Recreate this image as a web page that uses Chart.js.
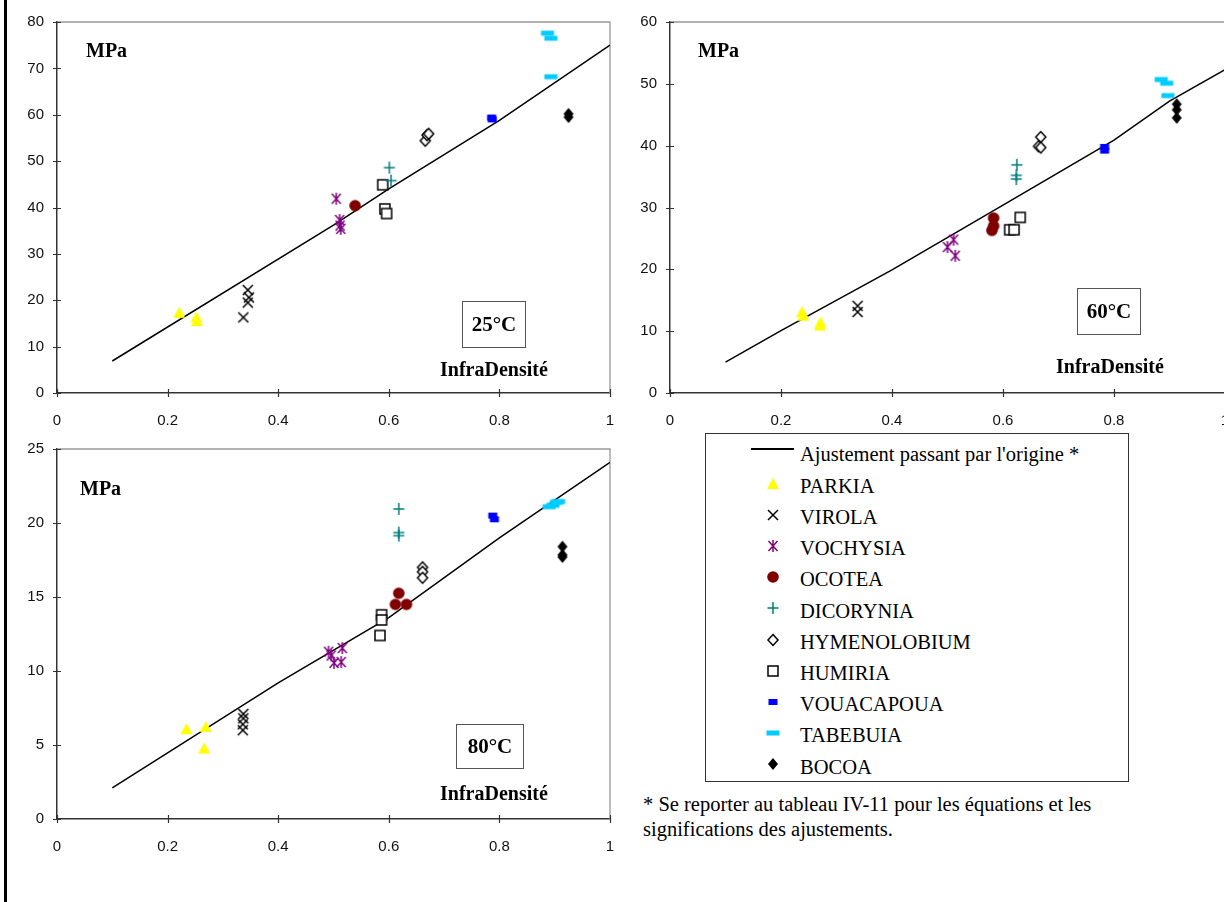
<!DOCTYPE html>
<html>
<head>
<meta charset="utf-8">
<script src="https://cdn.jsdelivr.net/npm/chart.js@4.4.1/dist/chart.umd.min.js"></script>
<style>
  body { margin: 0; background: #fff; }
  #page { position: relative; width: 1224px; height: 902px; overflow: hidden; background: #fff; }
  canvas.chart { position: absolute; }
  .txt { position: absolute; font-family: 'Liberation Serif', 'Times New Roman', serif; color: #000; white-space: nowrap; font-size: 20.5px; line-height: 20px; }
  .b { font-weight: bold; font-size: 20px; }
  .tbox { position: absolute; box-sizing: border-box; border: 1.5px solid #555; display: flex; align-items: center; justify-content: center;
          font-family: 'Liberation Serif', 'Times New Roman', serif; font-weight: bold; font-size: 21px; }
  #leftbar { position: absolute; left: 4px; top: 0; width: 3px; height: 902px; background: #000; }
  #legend { position: absolute; left: 705px; top: 433px; width: 424px; height: 349px; box-sizing: border-box; border: 1.5px solid #333; }
  #legline { position: absolute; left: 751px; top: 448px; width: 43px; height: 1.5px; background: #000; }
  .mk { position: absolute; }
</style>
</head>
<body>
<div id="page">
  <div id="leftbar"></div>
  <canvas id="c25" class="chart" width="620" height="426" style="left:0;top:0"></canvas>
  <canvas id="c60" class="chart" width="620" height="426" style="left:614px;top:0"></canvas>
  <canvas id="c80" class="chart" width="620" height="476" style="left:0;top:426px"></canvas>

  <div class="txt b" style="left:86px;top:40px">MPa</div>
  <div class="tbox" style="left:462px;top:301px;width:64px;height:47px">25°C</div>
  <div class="txt b" style="left:440px;top:359px">InfraDensité</div>

  <div class="txt b" style="left:698px;top:40px">MPa</div>
  <div class="tbox" style="left:1077px;top:288px;width:64px;height:47px">60°C</div>
  <div class="txt b" style="left:1056px;top:356px">InfraDensité</div>

  <div class="txt b" style="left:80px;top:478px">MPa</div>
  <div class="tbox" style="left:456px;top:724px;width:68px;height:45px">80°C</div>
  <div class="txt b" style="left:440px;top:783px">InfraDensité</div>

  <div id="legend"></div>
  <div id="legline"></div>
  <div class="txt" style="left:800px;top:444px">Ajustement passant par l'origine *</div>

  <div class="txt" style="left:643px;top:794px">* Se reporter au tableau IV-11 pour les équations et les</div>
  <div class="txt" style="left:643px;top:819px">significations des ajustements.</div>
</div>

<script>
// espèces et styles de marqueurs
const species = ['PARKIA', 'VIROLA', 'VOCHYSIA', 'OCOTEA', 'DICORYNIA', 'HYMENOLOBIUM', 'HUMIRIA', 'VOUACAPOUA', 'TABEBUIA', 'BOCOA'];
const colors = ['#FFFF00', '#000000', '#800080', '#800000', '#008080', '#000000', '#000000', '#0000FF', '#00CCFF', '#000000'];
const shapes = ['triangle', 'cross', 'asterisk', 'circle', 'plus', 'diamondOpen', 'squareOpen', 'dash', 'dashWide', 'diamond'];

const xTicks = [0, 0.2, 0.4, 0.6, 0.8, 1];
const yTicks25 = [0, 10, 20, 30, 40, 50, 60, 70, 80];
const yTicks60 = [0, 10, 20, 30, 40, 50, 60];
const yTicks80 = [0, 5, 10, 15, 20, 25];

// [infradensité, MPa] par espèce, même ordre que species
const pts25 = [
  [[0.221, 17.3], [0.252, 16.3], [0.253, 15.5]],
  [[0.337, 16.3], [0.345, 19.5], [0.347, 20.6], [0.345, 22.2]],
  [[0.505, 41.9], [0.511, 37.3], [0.512, 36.1], [0.513, 35.4]],
  [[0.539, 40.4]],
  [[0.601, 48.6], [0.604, 45.8]],
  [[0.666, 54.4], [0.669, 55.6], [0.672, 55.9]],
  [[0.589, 44.9], [0.593, 39.7], [0.596, 38.7]],
  [[0.786, 59.4], [0.787, 59.0]],
  [[0.887, 77.6], [0.893, 76.5], [0.893, 68.2]],
  [[0.925, 60.2], [0.925, 59.5]]
];
const pts60 = [
  [[0.238, 13.1], [0.240, 12.5], [0.271, 11.4], [0.270, 10.9]],
  [[0.338, 14.1], [0.338, 13.1]],
  [[0.500, 23.6], [0.511, 24.8], [0.514, 22.2]],
  [[0.583, 28.3], [0.583, 27.0], [0.580, 26.3]],
  [[0.625, 36.9], [0.624, 35.2], [0.624, 34.6]],
  [[0.668, 41.4], [0.664, 39.9], [0.668, 39.7]],
  [[0.631, 28.4], [0.612, 26.4], [0.620, 26.4]],
  [[0.783, 39.8], [0.783, 39.2]],
  [[0.885, 50.7], [0.895, 50.1], [0.897, 48.1]],
  [[0.913, 46.7], [0.913, 45.8], [0.913, 44.5]]
];
const pts80 = [
  [[0.234, 6.07], [0.269, 6.22], [0.266, 4.76]],
  [[0.337, 7.1], [0.337, 6.8], [0.336, 6.4], [0.336, 6.0]],
  [[0.491, 11.3], [0.496, 11.05], [0.501, 10.55], [0.514, 10.6], [0.516, 11.55]],
  [[0.618, 15.25], [0.612, 14.5], [0.632, 14.5]],
  [[0.618, 20.95], [0.618, 19.35], [0.618, 19.15]],
  [[0.661, 17.0], [0.661, 16.7], [0.661, 16.3]],
  [[0.587, 13.8], [0.587, 13.45], [0.584, 12.4]],
  [[0.788, 20.5], [0.791, 20.25]],
  [[0.890, 21.1], [0.897, 21.2], [0.903, 21.4], [0.907, 21.45]],
  [[0.914, 18.4], [0.914, 17.85], [0.914, 17.7]]
];

// ajustements passant par l'origine
const fit25 = [[0.1, 6.9], [0.5, 36.2], [0.6, 44.0], [0.8, 58.8], [1.0, 75.0]];
const fit60 = [[0.1, 5.0], [0.2, 10.1], [0.4, 19.9], [0.6, 30.4], [0.8, 40.9], [0.9, 47.2], [1.0, 52.3]];
const fit80 = [[0.1, 2.1], [0.4, 9.2], [0.6, 13.6], [0.8, 19.0], [1.0, 24.1]];

function drawMarker(g, kind, color) {
  g.strokeStyle = color;
  g.fillStyle = color;
  g.lineWidth = 1.5;
  g.beginPath();
  switch (kind) {
    case 'triangle':
      g.moveTo(0, -6); g.lineTo(6, 5); g.lineTo(-6, 5); g.closePath(); g.fill();
      break;
    case 'cross':
      g.moveTo(-5, -5); g.lineTo(5, 5); g.moveTo(5, -5); g.lineTo(-5, 5); g.stroke();
      break;
    case 'asterisk':
      g.moveTo(-4.5, -5); g.lineTo(4.5, 5); g.moveTo(4.5, -5); g.lineTo(-4.5, 5);
      g.moveTo(0, -6); g.lineTo(0, 6); g.stroke();
      break;
    case 'circle':
      g.arc(0, 0, 5.8, 0, Math.PI * 2); g.fill();
      break;
    case 'plus':
      g.moveTo(-5.5, 0); g.lineTo(5.5, 0); g.moveTo(0, -6); g.lineTo(0, 6); g.stroke();
      break;
    case 'diamondOpen':
      g.moveTo(0, -5.5); g.lineTo(5, 0); g.lineTo(0, 5.5); g.lineTo(-5, 0); g.closePath();
      g.fillStyle = '#fff'; g.fill(); g.stroke();
      break;
    case 'squareOpen':
      g.rect(-5, -5, 10, 10); g.fillStyle = '#fff'; g.fill(); g.stroke();
      break;
    case 'dash':
      g.fillRect(-4.5, -3, 9, 6);
      break;
    case 'dashWide':
      g.fillRect(-6.5, -2.5, 13, 5);
      break;
    case 'diamond':
      g.moveTo(0, -6); g.lineTo(5, 0); g.lineTo(0, 6); g.lineTo(-5, 0); g.closePath(); g.fill();
      break;
  }
}

function markerCanvas(kind, color) {
  const c = document.createElement('canvas');
  c.width = 16;
  c.height = 16;
  const g = c.getContext('2d');
  g.translate(8, 8);
  drawMarker(g, kind, color);
  return c;
}

// cadre gris haut/droite + graduations qui traversent les axes
const axisDeco = {
  id: 'axisDeco',
  beforeDatasetsDraw(chart) {
    const { ctx, chartArea: a, scales: { x, y } } = chart;
    ctx.save();
    ctx.strokeStyle = '#999';
    ctx.lineWidth = 1.3;
    ctx.beginPath();
    ctx.moveTo(a.left, a.top);
    ctx.lineTo(a.right, a.top);
    ctx.lineTo(a.right, a.bottom);
    ctx.stroke();
    ctx.strokeStyle = '#333';
    ctx.lineWidth = 1.2;
    ctx.beginPath();
    x.ticks.forEach(t => {
      const p = Math.round(x.getPixelForValue(t.value)) + 0.5;
      ctx.moveTo(p, a.bottom - 4);
      ctx.lineTo(p, a.bottom + 4);
    });
    y.ticks.forEach(t => {
      const p = Math.round(y.getPixelForValue(t.value)) + 0.5;
      ctx.moveTo(a.left - 4, p);
      ctx.lineTo(a.left + 4, p);
    });
    ctx.stroke();
    ctx.restore();
  }
};

function makeChart(id, pts, fit, yTicks, padding, yWidth, yGap) {
  const datasets = [{
    data: fit.map(([x, y]) => ({ x, y })),
    showLine: true,
    borderColor: '#000',
    borderWidth: 1.5,
    pointRadius: 0,
    order: 1
  }];
  pts.forEach((p, i) => {
    datasets.push({
      label: species[i],
      data: p.map(([x, y]) => ({ x, y })),
      pointStyle: markerCanvas(shapes[i], colors[i]),
      pointRadius: 6,
      order: 0
    });
  });

  const tickFont = { family: "'Liberation Sans', Arial, sans-serif", size: 15 };
  return new Chart(document.getElementById(id), {
    type: 'scatter',
    data: { datasets },
    plugins: [axisDeco],
    options: {
      responsive: false,
      animation: false,
      layout: { padding },
      plugins: { legend: { display: false }, tooltip: { enabled: false } },
      scales: {
        x: {
          type: 'linear', min: 0, max: 1,
          afterBuildTicks: s => { s.ticks = xTicks.map(v => ({ value: v })); },
          afterFit: s => { s.height = 33; },
          grid: { display: false, drawTicks: true, tickLength: 19 },
          border: { color: '#333', width: 1.5 },
          ticks: { padding: 0, font: tickFont, color: '#111', maxRotation: 0, autoSkip: false,
                   callback: v => String(+v.toFixed(1)) }
        },
        y: {
          type: 'linear', min: 0, max: yTicks[yTicks.length - 1],
          afterBuildTicks: s => { s.ticks = yTicks.map(v => ({ value: v })); },
          afterFit: s => { s.width = yWidth; },
          grid: { display: false, drawTicks: true, tickLength: yGap },
          border: { color: '#333', width: 1.5 },
          ticks: { padding: 0, font: tickFont, color: '#111', autoSkip: false }
        }
      }
    }
  });
}

makeChart('c25', pts25, fit25, yTicks25, { top: 22, right: 10, bottom: 0, left: 0 }, 57, 13);
makeChart('c60', pts60, fit60, yTicks60, { top: 22, right: 9, bottom: 0, left: 0 }, 56, 13);
makeChart('c80', pts80, fit80, yTicks80, { top: 23, right: 10, bottom: 50, left: 0 }, 57, 13);

// légende
const page = document.getElementById('page');
species.forEach((name, i) => {
  const base = 492.5 + i * 31.2;
  const mk = markerCanvas(shapes[i], colors[i]);
  mk.className = 'mk';
  mk.style.left = (773 - 8) + 'px';
  mk.style.top = (base - 9 - 8) + 'px';
  page.appendChild(mk);
  const t = document.createElement('div');
  t.className = 'txt';
  t.style.left = '800px';
  t.style.top = (base - 16.75) + 'px';
  t.textContent = name;
  page.appendChild(t);
});
</script>
</body>
</html>
